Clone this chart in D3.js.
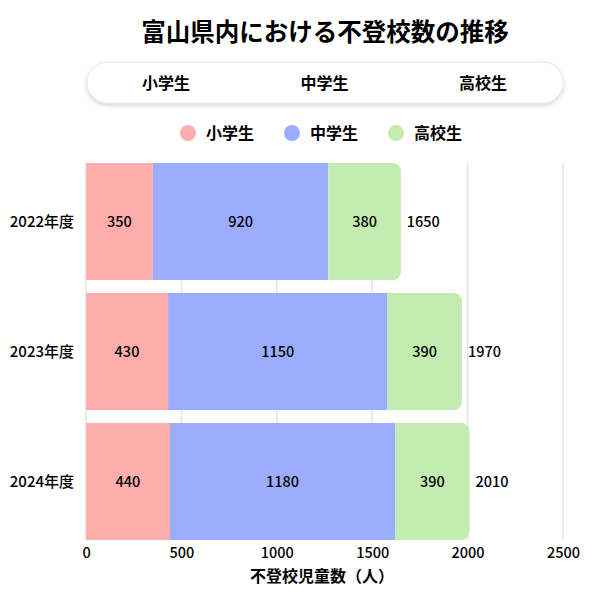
<!DOCTYPE html>
<html>
<head>
  <meta charset="utf-8">
  <script src="https://cdn.jsdelivr.net/npm/d3@7/dist/d3.min.js"></script>
  <style>
    body { margin: 0; background: #fff; }
    svg { font-family: "Noto Sans CJK JP", "Noto Sans", sans-serif; }
  </style>
</head>
<body>
  <script>
    const years = ['2022年度', '2023年度', '2024年度']
    const groups = ['小学生', '中学生', '高校生']
    const elementary = [350, 430, 440]
    const juniorHigh = [920, 1150, 1180]
    const highSchool = [380, 390, 390]
    const xTicks = [0, 500, 1000, 1500, 2000, 2500]
    const colors = ['#ffadad', '#9cadff', '#c2ecb0']

    const series = [elementary, juniorHigh, highSchool]
    const rows = years.map((y, i) => {
      const vals = series.map(s => s[i])
      return { year: y, vals, total: d3.sum(vals) }
    })

    const W = 600, H = 600
    const svg = d3.select('body').append('svg')
      .attr('width', W).attr('height', H)

    const defs = svg.append('defs')
    const f = defs.append('filter').attr('id', 'shadow')
      .attr('x', '-10%').attr('y', '-30%').attr('width', '120%').attr('height', '170%')
    f.append('feDropShadow').attr('dx', 0).attr('dy', 2).attr('stdDeviation', 2)
      .attr('flood-color', '#000').attr('flood-opacity', 0.18)

    // title
    svg.append('text')
      .attr('x', 325).attr('y', 41)
      .attr('text-anchor', 'middle')
      .attr('font-size', 24.5).attr('font-weight', 'bold')
      .text('富山県内における不登校数の推移')

    // tab box
    svg.append('rect')
      .attr('x', 87).attr('y', 62).attr('width', 476).attr('height', 41)
      .attr('rx', 20.5).attr('fill', '#fff')
      .attr('stroke', '#e8e8e8').attr('stroke-width', 1)
      .attr('filter', 'url(#shadow)')
    const tabX = d3.scalePoint().domain(groups).range([166, 483])
    svg.selectAll('.tab').data(groups).join('text')
      .attr('x', d => tabX(d)).attr('y', 89)
      .attr('text-anchor', 'middle')
      .attr('font-size', 16).attr('font-weight', 'bold')
      .text(d => d)

    // legend
    const legX = d3.scalePoint().domain(groups).range([188, 396])
    const leg = svg.selectAll('.leg').data(groups).join('g')
      .attr('transform', d => `translate(${legX(d)},133)`)
    leg.append('circle').attr('r', 8).attr('fill', (d, i) => colors[i])
    leg.append('text').attr('x', 18).attr('y', 6)
      .attr('font-size', 16).attr('font-weight', 'bold')
      .text(d => d)

    // scales
    const x = d3.scaleLinear().domain([0, 2500]).range([86, 563])
    const y = d3.scaleBand().domain(years).range([156.5, 546.5])
      .paddingInner(0.1).paddingOuter(0.05)

    const gTop = y(years[0]), gBot = y(years[years.length - 1]) + y.bandwidth()

    // grid
    svg.selectAll('.grid').data(xTicks).join('line')
      .attr('x1', d => x(d)).attr('x2', d => x(d))
      .attr('y1', gTop).attr('y2', gBot)
      .attr('stroke', '#e6e6e6').attr('stroke-width', 1.5)

    // bars
    const r = 8
    function roundedRight(x0, y0, w, h) {
      const p = d3.path()
      p.moveTo(x0, y0)
      p.lineTo(x0 + w - r, y0)
      p.arcTo(x0 + w, y0, x0 + w, y0 + r, r)
      p.lineTo(x0 + w, y0 + h - r)
      p.arcTo(x0 + w, y0 + h, x0 + w - r, y0 + h, r)
      p.lineTo(x0, y0 + h)
      p.closePath()
      return p.toString()
    }

    rows.forEach(row => {
      const g = svg.append('g')
      let acc = 0
      row.vals.forEach((v, i) => {
        const x0 = x(acc), x1 = x(acc + v)
        const yy = y(row.year), h = y.bandwidth()
        if (i === row.vals.length - 1) {
          g.append('path').attr('d', roundedRight(x0, yy, x1 - x0, h))
            .attr('fill', colors[i])
        } else {
          g.append('rect').attr('x', x0).attr('y', yy)
            .attr('width', x1 - x0).attr('height', h)
            .attr('fill', colors[i])
        }
        g.append('text')
          .attr('x', (x0 + x1) / 2).attr('y', yy + h / 2 + 5)
          .attr('text-anchor', 'middle').attr('font-size', 14.5)
          .attr('font-weight', 500)
          .text(v)
        acc += v
      })
      g.append('text')
        .attr('x', x(row.total) + 6).attr('y', y(row.year) + y.bandwidth() / 2 + 5)
        .attr('font-size', 14.5).attr('font-weight', 500)
        .text(row.total)
    })

    // y labels
    svg.selectAll('.ylab').data(years).join('text')
      .attr('x', 74).attr('y', d => y(d) + y.bandwidth() / 2 + 5.5)
      .attr('text-anchor', 'end').attr('font-size', 15).attr('font-weight', 500)
      .text(d => d)

    // x axis
    const xAxis = svg.append('g')
      .attr('transform', `translate(0,${gBot})`)
      .call(d3.axisBottom(x).tickValues(xTicks).tickFormat(d3.format('d'))
        .tickSize(0).tickPadding(8))
    xAxis.select('.domain').remove()
    xAxis.selectAll('text')
      .attr('font-family', '"Noto Sans CJK JP", sans-serif')
      .attr('font-size', 14.5).attr('font-weight', 500).attr('fill', '#000')

    svg.append('text')
      .attr('x', 322).attr('y', 582)
      .attr('text-anchor', 'middle')
      .attr('font-size', 16).attr('font-weight', 'bold')
      .text('不登校児童数（人）')
  </script>
</body>
</html>
